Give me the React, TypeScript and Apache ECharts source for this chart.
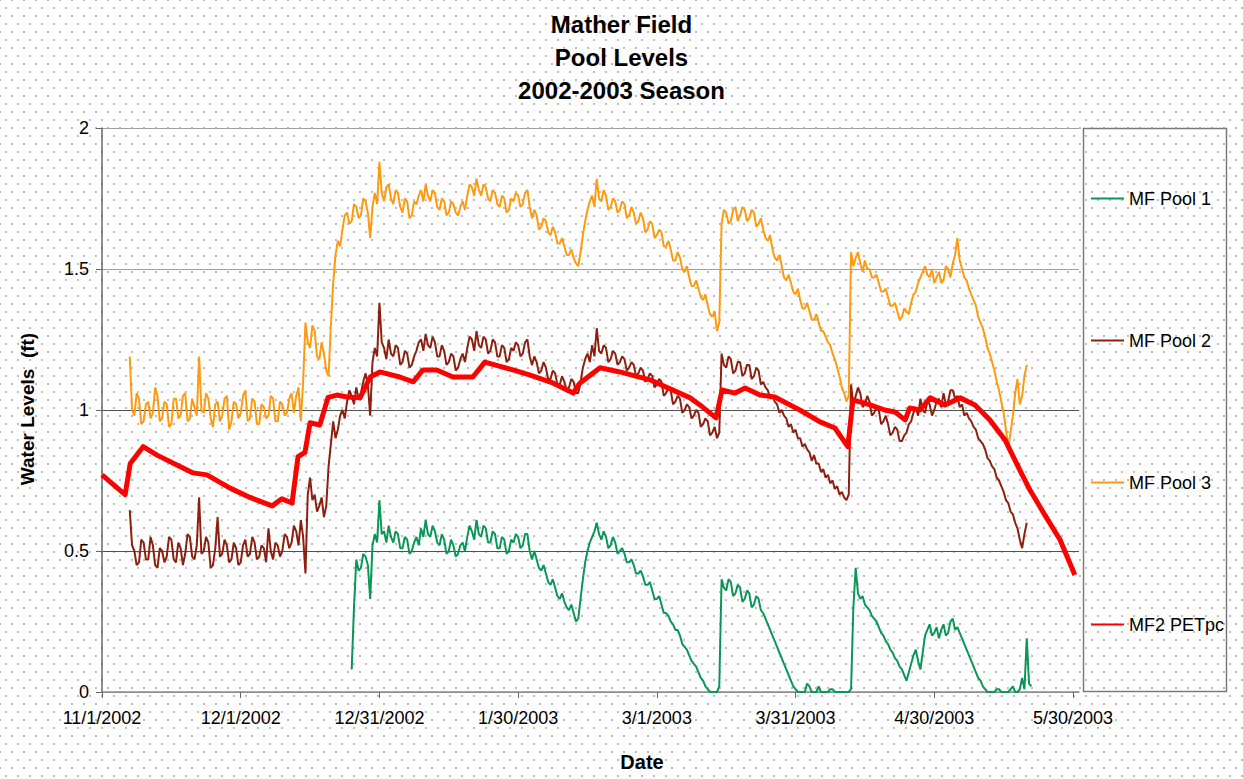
import React, { useEffect, useRef } from 'react';
import * as echarts from 'echarts';

// X axis: days since 11/1/2002
const xTickDays = [0, 30, 60, 90, 120, 150, 180, 210];
const xTickLabels = ['11/1/2002', '12/1/2002', '12/31/2002', '1/30/2003', '3/1/2003', '3/31/2003', '4/30/2003', '5/30/2003'];
const seriesNames = ['MF Pool 1', 'MF Pool 2', 'MF Pool 3', 'MF2 PETpc'];

// Pool readings every half day (STEP days), starting at the given day
const STEP = 0.5;

// MF Pool 1: starts day 54
const pool1Start = 54;
const pool1Values = [
  0.08, 0.30, 0.47, 0.43, 0.44, 0.49, 0.48, 0.45, 0.33, 0.52, // 54-58
  0.56, 0.53, 0.68, 0.56, 0.57, 0.53, 0.59, 0.55, 0.53, 0.57, // 59-63
  0.56, 0.51, 0.51, 0.55, 0.54, 0.49, 0.50, 0.53, 0.55, 0.52, // 64-68
  0.58, 0.55, 0.61, 0.56, 0.55, 0.59, 0.57, 0.53, 0.52, 0.56, // 69-73
  0.54, 0.49, 0.50, 0.54, 0.52, 0.48, 0.49, 0.52, 0.53, 0.50, // 74-78
  0.55, 0.59, 0.57, 0.54, 0.61, 0.56, 0.55, 0.59, 0.58, 0.53, // 79-83
  0.53, 0.57, 0.56, 0.51, 0.51, 0.55, 0.54, 0.49, 0.50, 0.54, // 84-88
  0.53, 0.56, 0.55, 0.51, 0.52, 0.56, 0.56, 0.50, 0.47, 0.50, // 89-93
  0.47, 0.44, 0.43, 0.45, 0.42, 0.39, 0.38, 0.40, 0.37, 0.34, // 94-98
  0.33, 0.35, 0.32, 0.30, 0.29, 0.31, 0.28, 0.25, 0.26, 0.33, // 99-103
  0.40, 0.46, 0.50, 0.53, 0.55, 0.57, 0.60, 0.56, 0.54, 0.57, // 104-108
  0.55, 0.51, 0.52, 0.55, 0.53, 0.49, 0.50, 0.51, 0.49, 0.46, // 109-113
  0.46, 0.47, 0.45, 0.42, 0.42, 0.43, 0.41, 0.38, 0.38, 0.39, // 114-118
  0.36, 0.33, 0.33, 0.34, 0.31, 0.28, 0.28, 0.27, 0.25, 0.24, // 119-123
  0.22, 0.22, 0.20, 0.17, 0.16, 0.15, 0.13, 0.11, 0.10, 0.09, // 124-128
  0.07, 0.05, 0.04, 0.02, 0.01, 0, 0, 0, 0, 0.02, // 129-133
  0.40, 0.37, 0.36, 0.40, 0.39, 0.34, 0.35, 0.38, 0.37, 0.32, // 134-138
  0.33, 0.36, 0.35, 0.30, 0.31, 0.34, 0.33, 0.29, 0.28, 0.26, // 139-143
  0.24, 0.22, 0.20, 0.18, 0.16, 0.14, 0.12, 0.10, 0.08, 0.06, // 144-148
  0.04, 0.02, 0.01, 0, 0, 0, 0, 0.03, 0.02, 0, // 149-153
  0, 0, 0.02, 0, 0, 0, 0, 0.01, 0.01, 0, // 154-158
  0, 0, 0, 0, 0, 0, 0.01, 0.30, 0.44, 0.35, // 159-163
  0.33, 0.34, 0.31, 0.30, 0.29, 0.27, 0.26, 0.25, 0.23, 0.21, // 164-168
  0.20, 0.18, 0.17, 0.15, 0.14, 0.12, 0.11, 0.09, 0.08, 0.06, // 169-173
  0.04, 0.07, 0.10, 0.13, 0.15, 0.11, 0.08, 0.14, 0.20, 0.22, // 174-178
  0.24, 0.20, 0.21, 0.23, 0.19, 0.22, 0.24, 0.20, 0.21, 0.25, // 179-183
  0.26, 0.22, 0.23, 0.21, 0.19, 0.17, 0.15, 0.13, 0.11, 0.09, // 184-188
  0.07, 0.05, 0.04, 0.02, 0.01, 0, 0, 0, 0, 0.01, // 189-193
  0.01, 0, 0, 0, 0, 0.01, 0.02, 0, 0, 0.01, // 194-198
  0.05, 0.01, 0.19, 0.03, 0.02, // 199-201
];

// MF Pool 2: starts day 6
const pool2Start = 6;
const pool2Values = [
  0.645, 0.52, 0.50, 0.45, 0.46, 0.54, 0.53, 0.47, 0.47, 0.55, // 6-10
  0.52, 0.45, 0.44, 0.51, 0.50, 0.46, 0.48, 0.55, 0.54, 0.47, // 11-15
  0.46, 0.53, 0.51, 0.45, 0.49, 0.56, 0.55, 0.48, 0.47, 0.52, // 16-20
  0.69, 0.49, 0.50, 0.55, 0.53, 0.44, 0.45, 0.51, 0.62, 0.48, // 21-25
  0.49, 0.54, 0.52, 0.46, 0.47, 0.53, 0.51, 0.45, 0.46, 0.52, // 26-30
  0.54, 0.48, 0.49, 0.55, 0.53, 0.47, 0.48, 0.52, 0.51, 0.46, // 31-35
  0.58, 0.50, 0.47, 0.53, 0.52, 0.48, 0.50, 0.56, 0.55, 0.51, // 36-40
  0.53, 0.59, 0.57, 0.52, 0.61, 0.55, 0.42, 0.70, 0.76, 0.68, // 41-45
  0.70, 0.64, 0.66, 0.69, 0.62, 0.66, 0.80, 0.88, 0.96, 0.90, // 46-50
  0.93, 0.98, 1.00, 0.97, 1.03, 1.07, 1.05, 1.02, 1.08, 1.04, // 51-55
  1.06, 1.10, 1.13, 1.09, 0.98, 1.17, 1.22, 1.19, 1.38, 1.24, // 56-60
  1.22, 1.18, 1.25, 1.20, 1.19, 1.23, 1.22, 1.16, 1.17, 1.21, // 61-65
  1.20, 1.15, 1.16, 1.19, 1.21, 1.24, 1.25, 1.21, 1.27, 1.23, // 66-70
  1.22, 1.26, 1.24, 1.19, 1.19, 1.23, 1.21, 1.16, 1.17, 1.20, // 71-75
  1.19, 1.14, 1.15, 1.18, 1.20, 1.17, 1.22, 1.26, 1.25, 1.21, // 76-80
  1.28, 1.23, 1.22, 1.26, 1.25, 1.20, 1.21, 1.25, 1.24, 1.19, // 81-85
  1.19, 1.23, 1.22, 1.17, 1.18, 1.22, 1.21, 1.24, 1.23, 1.19, // 86-90
  1.20, 1.24, 1.25, 1.19, 1.16, 1.19, 1.17, 1.13, 1.14, 1.17, // 91-95
  1.15, 1.11, 1.11, 1.14, 1.13, 1.09, 1.09, 1.12, 1.10, 1.07, // 96-100
  1.08, 1.11, 1.10, 1.06, 1.06, 1.10, 1.15, 1.18, 1.20, 1.17, // 101-105
  1.23, 1.19, 1.29, 1.21, 1.20, 1.23, 1.22, 1.17, 1.18, 1.21, // 106-110
  1.20, 1.16, 1.17, 1.19, 1.18, 1.14, 1.15, 1.17, 1.16, 1.12, // 111-115
  1.13, 1.15, 1.14, 1.10, 1.11, 1.13, 1.12, 1.08, 1.09, 1.11, // 116-120
  1.10, 1.05, 1.06, 1.08, 1.07, 1.02, 1.03, 1.05, 1.04, 0.99, // 121-125
  1.00, 1.02, 1.01, 0.97, 0.98, 1.00, 0.99, 0.94, 0.95, 0.97, // 126-130
  0.96, 0.91, 0.92, 0.94, 0.90, 0.92, 1.20, 1.16, 1.15, 1.19, // 131-135
  1.18, 1.13, 1.14, 1.17, 1.17, 1.12, 1.13, 1.16, 1.16, 1.11, // 136-140
  1.12, 1.15, 1.14, 1.09, 1.10, 1.08, 1.07, 1.04, 1.05, 1.03, // 141-145
  1.02, 0.99, 1.00, 0.98, 0.97, 0.94, 0.95, 0.92, 0.93, 0.90, // 146-150
  0.90, 0.87, 0.88, 0.86, 0.85, 0.82, 0.84, 0.81, 0.81, 0.78, // 151-155
  0.79, 0.76, 0.77, 0.74, 0.75, 0.72, 0.73, 0.70, 0.71, 0.69, // 156-160
  0.68, 0.70, 1.09, 1.02, 1.05, 1.08, 1.06, 1.01, 1.02, 1.05, // 161-165
  1.03, 0.98, 0.99, 1.01, 1.00, 0.95, 0.96, 0.98, 0.95, 0.91, // 166-170
  0.92, 0.94, 0.93, 0.89, 0.89, 0.91, 0.92, 0.95, 0.96, 0.99, // 171-175
  1.01, 0.98, 1.04, 1.00, 0.99, 1.03, 1.02, 0.98, 1.00, 1.03, // 176-180
  1.04, 1.01, 1.06, 1.02, 1.03, 1.07, 1.07, 1.04, 1.05, 1.01, // 181-185
  1.02, 0.98, 0.99, 0.97, 0.96, 0.94, 0.93, 0.90, 0.89, 0.88, // 186-190
  0.86, 0.83, 0.82, 0.80, 0.79, 0.76, 0.75, 0.73, 0.71, 0.68, // 191-195
  0.67, 0.64, 0.63, 0.60, 0.58, 0.54, 0.51, 0.56, 0.60, // 196-200
];

// MF Pool 3: starts day 6
const pool3Start = 6;
const pool3Values = [
  1.19, 1.00, 0.98, 1.06, 1.04, 0.95, 0.96, 1.02, 1.03, 0.97, // 6-10
  0.99, 1.08, 1.05, 0.96, 0.97, 1.03, 1.02, 0.94, 0.95, 1.04, // 11-15
  1.04, 0.97, 0.98, 1.05, 1.06, 0.96, 0.97, 1.04, 1.01, 0.98, // 16-20
  1.19, 1.00, 0.99, 1.06, 1.04, 0.97, 0.94, 1.02, 1.03, 0.96, // 21-25
  0.98, 1.04, 1.05, 0.93, 0.96, 1.03, 1.02, 0.97, 0.99, 1.05, // 26-30
  1.07, 0.96, 0.97, 1.04, 1.03, 0.95, 0.95, 1.02, 1.01, 0.97, // 31-35
  0.98, 1.05, 1.04, 0.96, 0.96, 1.03, 1.02, 0.98, 0.99, 1.04, // 36-40
  1.06, 0.99, 1.05, 1.08, 0.96, 1.10, 1.31, 1.24, 1.22, 1.30, // 41-45
  1.28, 1.19, 1.18, 1.24, 1.20, 1.14, 1.12, 1.30, 1.45, 1.55, // 46-50
  1.60, 1.58, 1.64, 1.69, 1.70, 1.66, 1.67, 1.73, 1.72, 1.68, // 51-55
  1.69, 1.75, 1.74, 1.70, 1.61, 1.72, 1.77, 1.73, 1.88, 1.77, // 56-60
  1.74, 1.79, 1.80, 1.75, 1.73, 1.78, 1.77, 1.72, 1.70, 1.75, // 61-65
  1.74, 1.68, 1.69, 1.74, 1.73, 1.76, 1.78, 1.74, 1.80, 1.76, // 66-70
  1.74, 1.78, 1.77, 1.72, 1.71, 1.75, 1.74, 1.69, 1.70, 1.74, // 71-75
  1.73, 1.70, 1.69, 1.72, 1.74, 1.71, 1.76, 1.80, 1.79, 1.76, // 76-80
  1.82, 1.78, 1.76, 1.80, 1.79, 1.75, 1.74, 1.78, 1.77, 1.73, // 81-85
  1.72, 1.76, 1.75, 1.70, 1.71, 1.75, 1.74, 1.77, 1.76, 1.72, // 86-90
  1.73, 1.77, 1.78, 1.72, 1.68, 1.71, 1.69, 1.64, 1.65, 1.68, // 91-95
  1.67, 1.63, 1.62, 1.65, 1.63, 1.59, 1.59, 1.61, 1.58, 1.55, // 96-100
  1.55, 1.57, 1.54, 1.52, 1.51, 1.56, 1.62, 1.67, 1.71, 1.74, // 101-105
  1.76, 1.72, 1.82, 1.75, 1.74, 1.78, 1.76, 1.71, 1.72, 1.75, // 106-110
  1.74, 1.70, 1.71, 1.74, 1.73, 1.68, 1.69, 1.72, 1.70, 1.66, // 111-115
  1.67, 1.70, 1.68, 1.63, 1.64, 1.67, 1.66, 1.61, 1.62, 1.64, // 116-120
  1.63, 1.58, 1.58, 1.60, 1.57, 1.53, 1.53, 1.56, 1.54, 1.50, // 121-125
  1.49, 1.51, 1.47, 1.44, 1.44, 1.46, 1.43, 1.40, 1.39, 1.41, // 126-130
  1.37, 1.34, 1.33, 1.35, 1.28, 1.31, 1.66, 1.71, 1.70, 1.66, // 131-135
  1.67, 1.71, 1.72, 1.67, 1.69, 1.72, 1.71, 1.67, 1.68, 1.71, // 136-140
  1.70, 1.65, 1.66, 1.68, 1.64, 1.61, 1.60, 1.62, 1.57, 1.54, // 141-145
  1.53, 1.55, 1.51, 1.47, 1.46, 1.48, 1.45, 1.42, 1.41, 1.43, // 146-150
  1.39, 1.36, 1.36, 1.38, 1.35, 1.32, 1.32, 1.34, 1.31, 1.28, // 151-155
  1.28, 1.26, 1.24, 1.23, 1.20, 1.18, 1.15, 1.12, 1.08, 1.06, // 156-160
  1.03, 1.05, 1.56, 1.51, 1.54, 1.56, 1.52, 1.49, 1.53, 1.50, // 161-165
  1.50, 1.47, 1.47, 1.48, 1.45, 1.42, 1.42, 1.43, 1.40, 1.37, // 166-170
  1.37, 1.38, 1.35, 1.32, 1.33, 1.36, 1.35, 1.34, 1.38, 1.41, // 171-175
  1.42, 1.45, 1.47, 1.49, 1.51, 1.48, 1.47, 1.50, 1.45, 1.47, // 176-180
  1.49, 1.45, 1.46, 1.51, 1.50, 1.47, 1.52, 1.55, 1.61, 1.53, // 181-185
  1.50, 1.47, 1.46, 1.43, 1.41, 1.39, 1.37, 1.33, 1.31, 1.29, // 186-190
  1.26, 1.22, 1.20, 1.17, 1.14, 1.10, 1.07, 1.03, 0.99, 0.93, // 191-195
  0.87, 0.92, 0.98, 1.06, 1.11, 1.02, 1.05, 1.12, 1.16, // 196-200
];

// MF2 PETpc: read at irregular days
const petDays = [
  0, 5.0, 6.1, 8.9, 11.9, 16.2, 19.7, 22.7, 27.7, 32, 36.8, 38.9, 41.1, 42.4, 43.9, 45, 47.1, 48.9, 50.8,
  53, 55.8, 58, 60.1, 64.4, 67.3, 69.4, 72.4, 75.9, 80.2, 82.8, 88.9, 92.6, 97.5, 101.9, 103.4, 107.7,
  112, 118.5, 127.2, 129.3, 132.8, 134.1, 136.9, 139.1, 142.3, 145.5, 150.9, 155.3, 158.5, 161.3, 162.4,
  166.1, 169.3, 171.5, 173.7, 174.7, 176.9, 179.1, 182.3, 185.6, 188.8, 192, 195.3, 198.5, 200.7, 203.9,
  207.2, 210.4,
];
const petValues = [
  0.77, 0.70, 0.81, 0.87, 0.84, 0.805, 0.777, 0.77, 0.723, 0.69, 0.66, 0.685, 0.67, 0.835, 0.85, 0.955, 0.947, 1.045, 1.053,
  1.046, 1.043, 1.117, 1.135, 1.117, 1.10, 1.142, 1.142, 1.117, 1.117, 1.17, 1.142, 1.124, 1.096, 1.06, 1.096, 1.15,
  1.135, 1.107, 1.043, 1.018, 0.972, 1.071, 1.06, 1.078, 1.053, 1.046, 1.0, 0.958, 0.936, 0.87, 1.036,
  1.018, 1.0, 0.993, 0.965, 1.007, 1.0, 1.043, 1.018, 1.043, 1.018, 0.965, 0.894, 0.787, 0.716, 0.628,
  0.54, 0.415,
];

const FONT = 'Liberation Sans, Arial, Helvetica, sans-serif';

const series = (start: number, vals: number[]) => vals.map((v, i) => [start + i * STEP, v]);

export default function App() {
  const ref = useRef<HTMLDivElement>(null);

  useEffect(() => {
    if (!ref.current) return;
    const chart = echarts.init(ref.current, null, { renderer: 'svg' });
    chart.setOption({
      animation: false,
      backgroundColor: 'transparent',
      textStyle: { fontFamily: FONT },
      title: {
        text: 'Mather Field\nPool Levels\n2002-2003 Season',
        left: 'center',
        top: 3,
        textStyle: { fontFamily: FONT, fontSize: 24, fontWeight: 'bold', lineHeight: 33, color: '#000' },
      },
      grid: { left: 102, right: 164, top: 128, bottom: 87 },
      legend: {
        orient: 'vertical',
        left: 1090,
        top: 189.5,
        padding: 0,
        itemWidth: 33,
        itemHeight: 17,
        itemGap: 124,
        selectedMode: false,
        data: seriesNames,
        itemStyle: { color: 'transparent', borderColor: 'transparent', borderWidth: 0, opacity: 0 },
        textStyle: { fontFamily: FONT, fontSize: 18, color: '#000', lineHeight: 17 },
      },
      xAxis: {
        type: 'value',
        min: 0,
        max: 211.3,
        interval: 30,
        axisLine: { show: true, onZero: true, lineStyle: { color: '#8a8a8a', width: 1.5 } },
        axisTick: { show: true, length: 6, customValues: xTickDays, lineStyle: { color: '#666' } },
        axisLabel: {
          customValues: xTickDays,
          margin: 17,
          fontSize: 18,
          color: '#000',
          fontFamily: FONT,
          formatter: (v: number) => {
            const i = xTickDays.indexOf(Math.round(v));
            return i >= 0 ? xTickLabels[i] : '';
          },
        },
        splitLine: { show: false },
      },
      yAxis: {
        type: 'value',
        min: 0,
        max: 2,
        interval: 0.5,
        axisLine: { show: true, lineStyle: { color: '#6a6a6a', width: 1.5 } },
        axisTick: { show: true, length: 6, lineStyle: { color: '#666' } },
        axisLabel: { margin: 13, fontSize: 18, color: '#000', fontFamily: FONT },
        splitLine: {
          show: true,
          lineStyle: { color: ['#999999', '#505050', '#505050', '#a0a0a0', '#a0a0a0'], width: 1.2 },
        },
      },
      graphic: [
        {
          type: 'rect',
          shape: { x: 1083.5, y: 128.5, width: 143, height: 563 },
          style: { fill: 'none', stroke: '#7a7a7a', lineWidth: 1.5 },
          z: 0,
        },
        {
          type: 'text',
          x: 27,
          y: 409,
          rotation: Math.PI / 2,
          style: {
            text: 'Water Levels  (ft)',
            font: `bold 19px ${FONT}`,
            fill: '#000',
            textAlign: 'center',
            textVerticalAlign: 'middle',
          },
        },
        {
          type: 'text',
          x: 642,
          y: 762,
          style: {
            text: 'Date',
            font: `bold 20px ${FONT}`,
            fill: '#000',
            textAlign: 'center',
            textVerticalAlign: 'middle',
          },
        },
      ],
      series: [
        {
          name: seriesNames[0],
          type: 'line',
          data: series(pool1Start, pool1Values),
          showSymbol: false,
          symbol: 'none',
          color: '#0a9656',
          lineStyle: { color: '#0a9656', width: 2 },
        },
        {
          name: seriesNames[1],
          type: 'line',
          data: series(pool2Start, pool2Values),
          showSymbol: false,
          symbol: 'none',
          color: '#8c2010',
          lineStyle: { color: '#8c2010', width: 2 },
        },
        {
          name: seriesNames[2],
          type: 'line',
          data: series(pool3Start, pool3Values),
          showSymbol: false,
          symbol: 'none',
          color: '#ff9a10',
          lineStyle: { color: '#ff9a10', width: 2 },
        },
        {
          name: seriesNames[3],
          type: 'line',
          data: petDays.map((d, i) => [d, petValues[i]]),
          showSymbol: false,
          symbol: 'none',
          color: '#ff0000',
          lineStyle: { color: '#ff0000', width: 5, join: 'round' },
        },
      ],
    });
    return () => chart.dispose();
  }, []);

  return (
    <div
      ref={ref}
      style={{
        position: 'absolute',
        left: 0,
        top: 0,
        width: 1243,
        height: 779,
        backgroundColor: '#ffffff',
        backgroundImage:
          'radial-gradient(circle, #bdbdbd 0.9px, transparent 1.3px), radial-gradient(circle, #bdbdbd 0.9px, transparent 1.3px)',
        backgroundSize: '12px 16px, 12px 16px',
        backgroundPosition: '0 0, 6px 8px',
      }}
    />
  );
}
